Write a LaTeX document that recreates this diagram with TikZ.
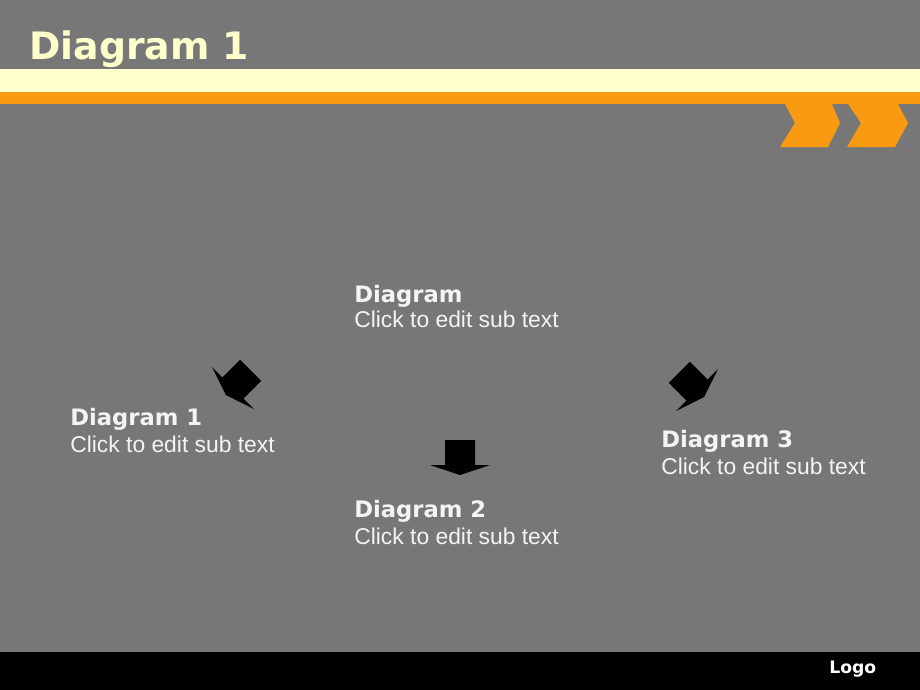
\documentclass[tikz,border=0pt]{standalone}
\usepackage{fontspec}
\setmainfont{Liberation Sans}
\newfontfamily\headfont{DejaVu Sans}
\usetikzlibrary{positioning}
\definecolor{slidegray}{HTML}{777777}
\definecolor{paleband}{HTML}{FFFFCC}
\definecolor{orangeband}{HTML}{F99A10}
\definecolor{lighttext}{HTML}{F4F4F4}
\tikzset{
  head/.style  = {anchor=base west, inner sep=0pt, text=lighttext,
                  font=\headfont\bfseries\fontsize{12.9}{15}\selectfont},
  sub/.style   = {anchor=base west, inner sep=0pt, text=lighttext,
                  font=\fontsize{13}{15.5}\selectfont},
  fatarrow/.pic = {
    \fill[black] (-15,-25) -- (15,-25) -- (15,0) -- (30,0) -- (0,10)
                 -- (-30,0) -- (-15,0) -- cycle;
  }
}

\begin{document}
\begin{tikzpicture}[x=0.02cm, y=-0.02cm]
	% background, bands and footer
	\fill[slidegray] (0,0) rectangle (920,690);
	\useasboundingbox (0,0) rectangle (920,690);
	\fill[paleband] (0,69) rectangle (920,92);
	\fill[orangeband] (0,92) rectangle (920,104);
	\fill[black] (0,652) rectangle (920,690);
	\fill[orangeband] (785,104) -- (832,104) -- (840,123) -- (828,147) -- (780,147) -- (795,123) -- cycle;
	\fill[orangeband] (848,104) -- (898,104) -- (908,123) -- (895,147) -- (847,147) -- (861,123) -- cycle;

	\node [anchor=base west, inner sep=0pt, text=paleband,
	       font=\headfont\bfseries\fontsize{21.5}{25}\selectfont] (title) at (29,59) {Diagram 1};
	\node [anchor=base west, inner sep=0pt, text=white,
	       font=\headfont\bfseries\fontsize{9.8}{12}\selectfont] (logo) at (829,673) {Logo};

	% text blocks
	\node [head] (top) at (354,302) {Diagram};
	\node [sub] (topsub) at ([yshift=-0.52cm]top.base west) {Click to edit sub text};
	\node [head] (left) at (70,425) {Diagram 1};
	\node [sub] (leftsub) at ([yshift=-0.54cm]left.base west) {Click to edit sub text};
	\node [head] (mid) at (354,517) {Diagram 2};
	\node [sub] (midsub) at ([yshift=-0.54cm]mid.base west) {Click to edit sub text};
	\node [head] (right) at (661,447) {Diagram 3};
	\node [sub] (rightsub) at ([yshift=-0.54cm]right.base west) {Click to edit sub text};

	% arrows
	\pic [rotate=-45] (arrowleft) at (233,388) {fatarrow};
	\pic (arrowmid) at (460,465) {fatarrow};
	\pic [rotate=45] (arrowright) at (697,390) {fatarrow};
\end{tikzpicture}
\end{document}
